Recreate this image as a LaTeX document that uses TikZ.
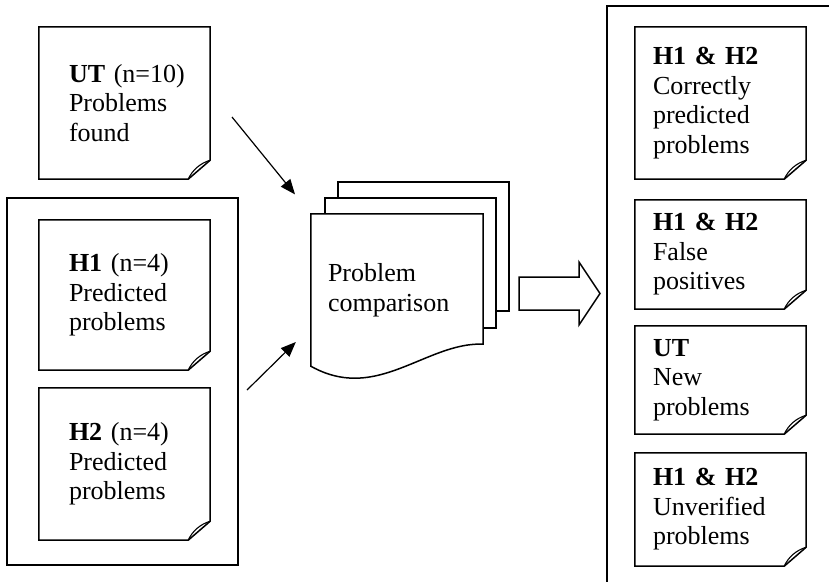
\documentclass[tikz,border=0pt]{standalone}
\usepackage{fontspec}
\setmainfont{Liberation Serif}
\usetikzlibrary{arrows.meta}
\usetikzlibrary{calc}
\usetikzlibrary{backgrounds}

\tikzset{
  note/.style={inner ysep=0pt, align=left, font=\fontsize{26}{29.5}\selectfont},
  frame/.style={line width=1.8pt},
  page/.style={line width=1.5pt, fill=white, line join=miter},
  link/.style={line width=1.2pt, -{Triangle[length=15pt,width=12pt]}},
  flow/.style={line width=1.5pt, line join=miter}
}

% outline of a note with a curled corner
\newcommand{\notefold}[1]{%
  \draw[line width=1.5pt, line join=miter]
    ($(#1.south east)+(0,-19)$) -- (#1.north east) -- (#1.north west)
    -- (#1.south west) -- ($(#1.south east)+(-22,0)$) -- cycle;
  \draw[line width=1.1pt]
    ($(#1.south east)+(-22,0)$) .. controls +(4,-9) and +(-10,3) .. ($(#1.south east)+(0,-19)$);
}

\begin{document}
\begin{tikzpicture}[x=1pt,y=-1pt]
\useasboundingbox (0,0) rectangle (829,581);
\clip (0,0) rectangle (829,581);

% inputs
\node[note, minimum width=171pt, minimum height=152pt, text width=111pt, inner xsep=30pt]
  (ut) at (124.5,103) {\textbf{UT}~(n=10)\\Problems\\found};
\draw[frame] (7,198) rectangle (238,565);
\node[note, minimum width=171pt, minimum height=150pt, text width=111pt, inner xsep=30pt]
  (h1) at (124.5,295) {\textbf{H1}~(n=4)\\Predicted\\problems};
\node[note, minimum width=171pt, minimum height=152pt, text width=111pt, inner xsep=30pt]
  (h2) at (124.5,464) {\textbf{H2}~(n=4)\\Predicted\\problems};
\notefold{ut}
\notefold{h1}
\notefold{h2}

% comparison
\node[note, minimum width=172pt, minimum height=152pt, text width=138pt, inner xsep=17pt]
  (cmp) at (397,290) {Problem\\comparison};
\begin{scope}[on background layer]
\filldraw[page] ($(cmp.north west)+(27,-32)$) rectangle ($(cmp.south east)+(26,-55)$);
\filldraw[page] ($(cmp.north west)+(14,-16)$) rectangle ($(cmp.south east)+(13,-38)$);
\filldraw[page] (cmp.north west) -- (cmp.north east) -- ($(cmp.south east)+(0,-22)$)
  .. controls +(-43,-2) and +(45,0) .. ($(cmp.south west)+(44,12)$)
  .. controls +(-20,0) and +(9,5) .. (cmp.south west) -- cycle;
\end{scope}

\coordinate (a1) at (232,117);
\coordinate (a2) at (247,390);
\coordinate (a2e) at ($(cmp.west)+(-15,52)$);
\draw[link, shorten >=25pt] (a1) -- (cmp.north west);
\draw[link] (a2) -- (a2e);

\draw[flow] (519,277) -- (579,277) -- (579,262) -- (600,293.5) -- (579,325)
  -- (579,310) -- (519,310) -- cycle;

% results
\draw[frame] (607,595) -- (607,6) -- (845,6);
\node[note, minimum width=171pt, minimum height=152pt, text width=135pt, inner xsep=18pt]
  (ra) at (720.5,103) {\textbf{H1 \& H2}\\Correctly\\predicted\\problems};
\node[note, minimum width=171pt, minimum height=109pt, text width=135pt, inner xsep=18pt]
  (rb) at (720.5,254.5) {\textbf{H1 \& H2}\\False\\positives};
\node[note, minimum width=171pt, minimum height=108pt, text width=135pt, inner xsep=18pt]
  (rc) at (720.5,380) {\textbf{UT}\\New\\problems};
\node[note, minimum width=171pt, minimum height=113pt, text width=135pt, inner xsep=18pt]
  (rd) at (720.5,509.5) {\textbf{H1 \& H2}\\Unverified\\problems};
\notefold{ra}
\notefold{rb}
\notefold{rc}
\notefold{rd}
\end{tikzpicture}
\end{document}
